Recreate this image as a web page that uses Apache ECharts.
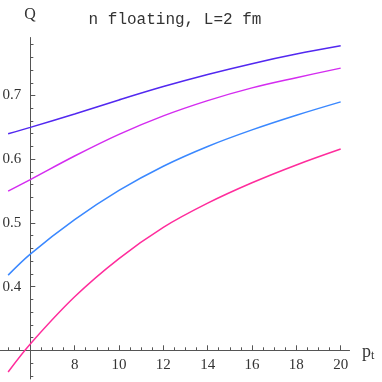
<!DOCTYPE html>
<html>
<head>
<meta charset="utf-8">
<script src="https://cdn.jsdelivr.net/npm/echarts@6/dist/echarts.min.js"></script>
<style>html,body{margin:0;padding:0;background:#fff}#c{width:382px;height:382px}</style>
</head>
<body>
<div id="c"></div>
<script>
// ---- data ----
const pt = [5, 6, 8, 10, 12, 14, 16, 18, 20];
const curveA = [0.640, 0.650, 0.671, 0.693, 0.714, 0.733, 0.750, 0.765, 0.778];
const curveB = [0.550, 0.568, 0.605, 0.639, 0.668, 0.692, 0.712, 0.728, 0.743];
const curveC = [0.418, 0.451, 0.505, 0.551, 0.589, 0.620, 0.646, 0.669, 0.690];
const curveD = [0.266, 0.310, 0.384, 0.444, 0.493, 0.531, 0.563, 0.591, 0.616];
const xTickLabels = [8, 10, 12, 14, 16, 18, 20];
const yTickLabels = [0.4, 0.5, 0.6, 0.7];
const titleText = 'n floating, L=2 fm';

// ---- layout helpers ----
function xp(v) { return 30.3 + (v - 6) * 22.17; }
function yp(v) { return 350.3 - (v - 0.3) * 637; }
function gridFor(xmin, xmax, ymin, ymax) {
  return { left: xp(xmin), top: yp(ymax), width: xp(xmax) - xp(xmin), height: yp(ymin) - yp(ymax),
    containLabel: false, outerBoundsMode: 'none' };
}
const axisCol = '#555';
const textCol = '#333';
const labelFont = 'Liberation Serif';

const grids = [
  gridFor(4, 20.4, 0.2, 0.8),   // 0 data
  gridFor(4, 20.4, 0.3, 0.8),   // 1 x axis line
  gridFor(4, 20, 0.3, 0.8),     // 2 x ticks + labels
  gridFor(6, 20, 0.255, 0.791), // 3 y axis line
  gridFor(6, 20, 0.2, 0.7),     // 4 y major ticks + labels
  gridFor(6, 20, 0.2, 0.781)    // 5 y minor ticks
];

const hiddenX = (gi, mn, mx) => ({ type: 'value', gridIndex: gi, min: mn, max: mx, show: false });
const hiddenY = (gi, mn, mx) => ({ type: 'value', gridIndex: gi, min: mn, max: mx, show: false });

const xAxes = [
  hiddenX(0, 4, 20.4),
  { type: 'value', gridIndex: 1, min: 4, max: 20.4, position: 'bottom',
    axisLine: { show: true, lineStyle: { color: axisCol, width: 1 } },
    axisTick: { show: false }, axisLabel: { show: false }, splitLine: { show: false } },
  { type: 'value', gridIndex: 2, min: 4, max: 20, interval: 2, position: 'bottom',
    axisLine: { show: false },
    axisTick: { show: true, inside: true, length: 5, lineStyle: { color: axisCol } },
    minorTick: { show: true, splitNumber: 4, length: 3, lineStyle: { color: axisCol } },
    axisLabel: { show: true, margin: 7, color: textCol, fontFamily: labelFont, fontSize: 15,
      formatter: v => (xTickLabels.indexOf(Math.round(v)) >= 0 && Math.abs(v - Math.round(v)) < 1e-6) ? String(Math.round(v)) : '' },
    splitLine: { show: false }, minorSplitLine: { show: false } },
  hiddenX(3, 6, 20),
  hiddenX(4, 6, 20),
  hiddenX(5, 6, 20)
];

const yAxes = [
  hiddenY(0, 0.2, 0.8),
  hiddenY(1, 0.3, 0.8),
  hiddenY(2, 0.3, 0.8),
  { type: 'value', gridIndex: 3, min: 0.255, max: 0.791, position: 'left',
    axisLine: { show: true, lineStyle: { color: axisCol, width: 1 } },
    axisTick: { show: false }, axisLabel: { show: false }, splitLine: { show: false } },
  { type: 'value', gridIndex: 4, min: 0.2, max: 0.7, interval: 0.1, position: 'left',
    axisLine: { show: false },
    axisTick: { show: true, inside: true, length: 5, lineStyle: { color: axisCol } },
    axisLabel: { show: true, margin: 9, color: textCol, fontFamily: labelFont, fontSize: 15,
      formatter: v => { const r = Math.round(v * 10) / 10; return yTickLabels.indexOf(r) >= 0 ? r.toFixed(1) : ''; } },
    splitLine: { show: false } },
  { type: 'value', gridIndex: 5, min: 0.2, max: 0.781, interval: 0.02, position: 'left',
    axisLine: { show: false },
    axisTick: { show: true, inside: true, length: 3, lineStyle: { color: axisCol } },
    axisLabel: { show: false }, splitLine: { show: false } }
];

function mk(vals, color) {
  return {
    type: 'line', xAxisIndex: 0, yAxisIndex: 0, data: pt.map((x, i) => [x, vals[i]]),
    smooth: 0.35, showSymbol: false, symbol: 'none', clip: false,
    lineStyle: { color: color, width: 1.5 }, silent: true, animation: false
  };
}

const chart = echarts.init(document.getElementById('c'), null, { renderer: 'canvas' });
chart.setOption({
  backgroundColor: '#fff',
  animation: false,
  grid: grids,
  xAxis: xAxes,
  yAxis: yAxes,
  series: [
    mk(curveA, '#5228f0'),
    mk(curveB, '#d42cf0'),
    mk(curveC, '#3a88ff'),
    mk(curveD, '#ff2c9c')
  ],
  graphic: [
    { type: 'text', x: 175, y: 20,
      style: { text: titleText, textAlign: 'center', textVerticalAlign: 'middle',
        font: '16px "Liberation Mono"', fill: textCol } },
    { type: 'text', x: 30, y: 15,
      style: { text: 'Q', textAlign: 'center', textVerticalAlign: 'middle',
        font: '16px "Liberation Serif"', fill: textCol } },
    { type: 'text', x: 362, y: 352,
      style: { text: '{p|p}{t|t}', textAlign: 'left', textVerticalAlign: 'middle',
        rich: { p: { fontFamily: 'Liberation Serif', fontSize: 18, fill: textCol, color: textCol },
                t: { fontFamily: 'Liberation Serif', fontSize: 12, fill: textCol, color: textCol, padding: [8, 0, 0, 0] } } } }
  ]
});
</script>
</body>
</html>
